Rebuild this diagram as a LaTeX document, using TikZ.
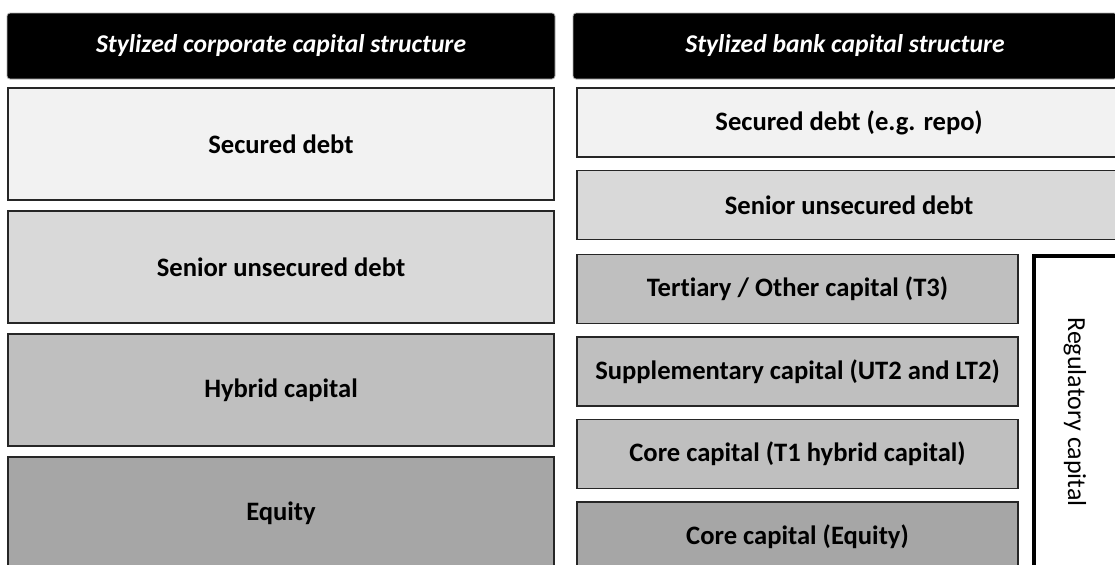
\documentclass[tikz,border=0pt]{standalone}
\usepackage{fontspec}
\setmainfont{Carlito}[Ligatures=NoCommon]
\usepackage{xcolor}
\usepackage{tikz}
\usetikzlibrary{positioning}
\definecolor{layerA}{HTML}{F2F2F2}
\definecolor{layerB}{HTML}{D9D9D9}
\definecolor{layerC}{HTML}{BFBFBF}
\definecolor{layerD}{HTML}{A6A6A6}
\tikzstyle{headBox} = [rectangle, draw=gray!60, fill=black, rounded corners=1.5pt, text=white,
	minimum height=33pt, font=\fontsize{12.8}{15}\selectfont\bfseries\itshape]
\tikzstyle{layerBox} = [rectangle, draw=black!85, line width=0.75pt,
	font=\fontsize{13.3}{15}\selectfont\bfseries]
\tikzstyle{wideLayer} = [layerBox, minimum width=273pt, minimum height=56pt]		% linke Spalte
\tikzstyle{bankLayer} = [layerBox, minimum width=272pt, minimum height=34.5pt]	% rechte Spalte

\begin{document}
\begin{tikzpicture}[node distance=61.5pt]
		\useasboundingbox (0,0) rectangle (557.5pt,-282pt);
		\clip (0,0) rectangle (557.5pt,-282pt);
		
		% linke Spalte: Unternehmen
		\node[headBox, minimum width=274pt] (cHead) at (140.5pt,-23pt) {Stylized corporate capital structure};
		\node[wideLayer, fill=layerA] (cSec) at (140.5pt,-72pt) {Secured debt};
		\node[wideLayer, fill=layerB, below of=cSec] (cSen) {Senior unsecured debt};
		\node[wideLayer, fill=layerC, below of=cSen] (cHyb) {Hybrid capital};
		\node[wideLayer, fill=layerD, below of=cHyb] (cEq) {Equity};			% unten abgeschnitten
		
		% rechte Spalte: Bank
		\node[headBox, minimum width=272pt] (bHead) at (422.5pt,-23pt) {Stylized bank capital structure};
		\node[bankLayer, fill=layerA] (bSec) at (424.5pt,-61.25pt) {Secured debt (e.g. repo)};
		\node[bankLayer, fill=layerB, below of=bSec, node distance=41.25pt] (bSen) {Senior unsecured debt};
		\node[bankLayer, fill=layerC, minimum width=220.5pt, below=6.75pt of bSen.south west, anchor=north west] (bTert) {Tertiary / Other capital (T3)};
		\node[bankLayer, fill=layerC, minimum width=220.5pt, below of=bTert, node distance=41.25pt] (bSupp) {Supplementary capital (UT2 and LT2)};
		\node[bankLayer, fill=layerC, minimum width=220.5pt, below of=bSupp, node distance=41.25pt] (bCoreH) {Core capital (T1 hybrid capital)};
		\node[bankLayer, fill=layerD, minimum width=220.5pt, below of=bCoreH, node distance=41.25pt] (bCoreE) {Core capital (Equity)};
		
		% Klammer regulatorisches Kapital
		\coordinate (regTop) at ([xshift=7.5pt,yshift=-1pt]bTert.north east);
		\coordinate (regRight) at ([xshift=60pt]regTop);
		\coordinate (regBot) at ([yshift=-170pt]regTop);
		\draw[line width=2pt] (regRight) -- (regTop) -- (regBot);
		\node[rotate=-90, font=\fontsize{13}{15}\selectfont] (reg) at (537.5pt,-206pt) {Regulatory capital};
		
		\end{tikzpicture}
\end{document}
